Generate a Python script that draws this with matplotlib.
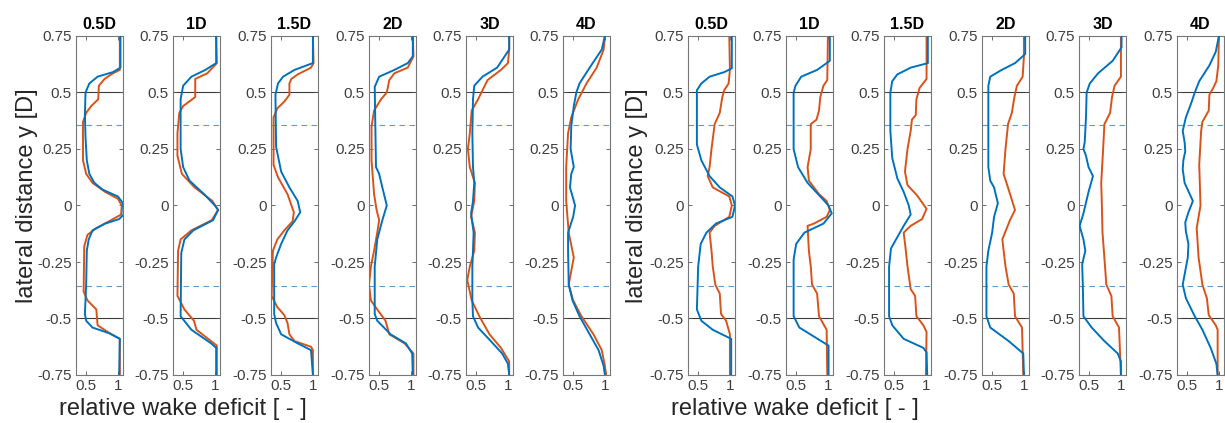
import matplotlib
matplotlib.use("Agg")
import matplotlib.pyplot as plt
import numpy as np

plt.rcParams['font.family'] = ['Liberation Sans', 'DejaVu Sans']

# downstream positions (panel titles)
titles = ['0.5D', '1D', '1.5D', '2D', '3D', '4D']

# wake profiles, (y [D], deficit [-]) pairs
# --- left group ---
left_05_blue = [(0.75, 1.04), (0.61, 1.04), (0.59, 0.92), (0.57, 0.68), (0.54, 0.55), (0.5, 0.49), (0.4, 0.48),
                (0.3, 0.49), (0.2, 0.51), (0.14, 0.55), (0.1, 0.63), (0.07, 0.76), (0.04, 1.0), (0.01, 1.08),
                (-0.04, 1.09), (-0.06, 1.02), (-0.08, 0.8), (-0.11, 0.6), (-0.15, 0.54), (-0.2, 0.51),
                (-0.35, 0.5), (-0.48, 0.48), (-0.51, 0.5), (-0.54, 0.6), (-0.565, 0.86), (-0.59, 1.03),
                (-0.75, 1.02)]
left_05_orange = [(0.75, 1.03), (0.6, 1.03), (0.585, 0.92), (0.56, 0.79), (0.53, 0.7), (0.47, 0.69), (0.44, 0.58),
                  (0.41, 0.5), (0.37, 0.45), (0.2, 0.45), (0.14, 0.5), (0.1, 0.6), (0.06, 0.8), (0.03, 1.0),
                  (0.0, 1.06), (-0.04, 1.05), (-0.07, 0.86), (-0.1, 0.66), (-0.13, 0.52), (-0.18, 0.47),
                  (-0.38, 0.46), (-0.42, 0.52), (-0.46, 0.66), (-0.53, 0.68), (-0.56, 0.84), (-0.59, 1.03),
                  (-0.75, 1.03)]
left_1_blue = [(0.75, 1.02), (0.63, 1.02), (0.6, 0.85), (0.57, 0.63), (0.53, 0.5), (0.47, 0.46), (0.25, 0.46),
               (0.17, 0.5), (0.11, 0.6), (0.05, 0.83), (0.0, 1.0), (-0.02, 1.05), (-0.065, 0.97), (-0.11, 0.66),
               (-0.15, 0.52), (-0.21, 0.47), (-0.49, 0.46), (-0.55, 0.63), (-0.61, 0.94), (-0.63, 1.02),
               (-0.75, 1.02)]
left_1_orange = [(0.75, 1.02), (0.63, 1.03), (0.585, 0.88), (0.56, 0.69), (0.48, 0.69), (0.44, 0.5), (0.41, 0.44),
                 (0.32, 0.41), (0.22, 0.41), (0.14, 0.48), (0.08, 0.68), (0.02, 0.96), (-0.02, 1.05),
                 (-0.065, 0.95), (-0.11, 0.63), (-0.15, 0.46), (-0.2, 0.42), (-0.4, 0.41), (-0.46, 0.52),
                 (-0.51, 0.67), (-0.55, 0.71), (-0.62, 1.03), (-0.75, 1.03)]
left_15_blue = [(0.75, 1.0), (0.63, 1.0), (0.625, 0.95), (0.6, 0.71), (0.57, 0.53), (0.54, 0.45), (0.49, 0.41),
                (0.26, 0.42), (0.15, 0.5), (0.08, 0.63), (0.02, 0.76), (-0.03, 0.8), (-0.07, 0.71), (-0.11, 0.6),
                (-0.17, 0.5), (-0.23, 0.42), (-0.26, 0.39), (-0.48, 0.39), (-0.52, 0.42), (-0.57, 0.5),
                (-0.61, 0.76), (-0.64, 0.97), (-0.75, 1.0)]
left_15_orange = [(0.75, 1.0), (0.63, 1.01), (0.61, 0.97), (0.58, 0.76), (0.56, 0.66), (0.54, 0.63), (0.49, 0.63),
                  (0.46, 0.55), (0.43, 0.44), (0.39, 0.38), (0.18, 0.38), (0.125, 0.45), (0.05, 0.6),
                  (-0.03, 0.7), (-0.07, 0.68), (-0.11, 0.55), (-0.15, 0.44), (-0.2, 0.37), (-0.4, 0.35),
                  (-0.45, 0.44), (-0.485, 0.55), (-0.52, 0.6), (-0.57, 0.63), (-0.6, 0.71), (-0.625, 0.97),
                  (-0.64, 1.0), (-0.75, 1.0)]
left_2_blue = [(0.75, 1.03), (0.66, 1.03), (0.63, 0.95), (0.6, 0.74), (0.57, 0.5), (0.525, 0.43), (0.17, 0.45),
               (0.14, 0.5), (0.08, 0.55), (0.0, 0.62), (-0.065, 0.55), (-0.15, 0.47), (-0.27, 0.43),
               (-0.48, 0.43), (-0.51, 0.47), (-0.57, 0.68), (-0.61, 0.92), (-0.655, 1.02), (-0.75, 1.03)]
left_2_orange = [(0.75, 1.03), (0.66, 1.04), (0.61, 0.95), (0.585, 0.74), (0.555, 0.66), (0.5, 0.62), (0.47, 0.53),
                 (0.42, 0.42), (0.35, 0.38), (0.2, 0.38), (0.05, 0.42), (-0.02, 0.46), (-0.065, 0.5),
                 (-0.12, 0.47), (-0.2, 0.42), (-0.27, 0.37), (-0.35, 0.34), (-0.42, 0.37), (-0.46, 0.47),
                 (-0.51, 0.6), (-0.57, 0.66), (-0.61, 0.9), (-0.655, 1.04), (-0.75, 1.04)]
left_3_blue = [(0.75, 1.02), (0.69, 1.02), (0.61, 0.83), (0.57, 0.6), (0.53, 0.47), (0.47, 0.45), (0.32, 0.44),
               (0.17, 0.45), (0.1, 0.47), (0.02, 0.45), (-0.035, 0.42), (-0.12, 0.46), (-0.2, 0.45),
               (-0.27, 0.44), (-0.42, 0.44), (-0.49, 0.45), (-0.54, 0.53), (-0.6, 0.73), (-0.655, 0.91),
               (-0.7, 1.0), (-0.75, 1.02)]
left_3_orange = [(0.75, 1.02), (0.69, 1.02), (0.63, 1.0), (0.6, 0.89), (0.555, 0.68), (0.51, 0.6), (0.47, 0.53),
                 (0.42, 0.43), (0.32, 0.4), (0.25, 0.37), (0.17, 0.4), (0.1, 0.48), (0.02, 0.47), (-0.05, 0.42),
                 (-0.12, 0.48), (-0.2, 0.47), (-0.27, 0.4), (-0.33, 0.36), (-0.42, 0.43), (-0.49, 0.55),
                 (-0.57, 0.71), (-0.63, 0.89), (-0.69, 1.02), (-0.75, 1.02)]
left_4_blue = [(0.75, 1.0), (0.69, 0.95), (0.61, 0.76), (0.54, 0.6), (0.5, 0.55), (0.44, 0.51), (0.35, 0.47),
               (0.25, 0.46), (0.17, 0.51), (0.14, 0.47), (0.08, 0.45), (0.0, 0.53), (-0.05, 0.5), (-0.12, 0.42),
               (-0.2, 0.42), (-0.35, 0.43), (-0.42, 0.49), (-0.49, 0.6), (-0.57, 0.76), (-0.64, 0.9),
               (-0.71, 0.98), (-0.75, 1.0)]
left_4_orange = [(0.75, 1.0), (0.69, 0.98), (0.61, 0.87), (0.54, 0.71), (0.47, 0.58), (0.39, 0.47), (0.32, 0.42),
                 (0.17, 0.39), (0.02, 0.39), (-0.12, 0.43), (-0.23, 0.51), (-0.29, 0.47), (-0.35, 0.43),
                 (-0.42, 0.5), (-0.49, 0.63), (-0.57, 0.82), (-0.64, 0.95), (-0.71, 1.0), (-0.75, 1.02)]

# --- right group ---
right_05_blue = [(0.75, 1.03), (0.607, 1.03), (0.59, 0.91), (0.57, 0.68), (0.54, 0.55), (0.51, 0.48), (0.27, 0.48),
                 (0.2, 0.55), (0.13, 0.68), (0.08, 0.84), (0.04, 1.04), (0.0, 1.08), (-0.05, 1.04), (-0.08, 0.78),
                 (-0.12, 0.63), (-0.17, 0.54), (-0.27, 0.5), (-0.46, 0.48), (-0.51, 0.55), (-0.55, 0.73),
                 (-0.59, 1.02), (-0.75, 1.02)]
right_05_orange = [(0.75, 0.99), (0.6, 1.0), (0.54, 0.98), (0.51, 0.91), (0.48, 0.88), (0.41, 0.84), (0.36, 0.76),
                   (0.25, 0.71), (0.17, 0.68), (0.13, 0.65), (0.08, 0.73), (0.04, 0.99), (0.0, 1.03),
                   (-0.05, 0.99), (-0.09, 0.76), (-0.12, 0.68), (-0.2, 0.71), (-0.27, 0.73), (-0.35, 0.77),
                   (-0.39, 0.84), (-0.48, 0.86), (-0.51, 0.94), (-0.57, 1.0), (-0.75, 1.0)]
right_1_blue = [(0.75, 1.03), (0.64, 1.03), (0.6, 0.83), (0.57, 0.58), (0.53, 0.49), (0.5, 0.46), (0.25, 0.46),
                (0.17, 0.53), (0.1, 0.68), (0.04, 0.88), (0.0, 1.01), (-0.035, 1.06), (-0.08, 0.93),
                (-0.12, 0.63), (-0.17, 0.5), (-0.24, 0.46), (-0.49, 0.46), (-0.54, 0.55), (-0.58, 0.78),
                (-0.62, 1.01), (-0.75, 1.01)]
right_1_orange = [(0.75, 1.0), (0.555, 0.99), (0.53, 0.93), (0.48, 0.88), (0.42, 0.86), (0.38, 0.82), (0.36, 0.73),
                  (0.25, 0.73), (0.17, 0.68), (0.11, 0.7), (0.05, 0.86), (0.02, 0.98), (-0.02, 1.03),
                  (-0.05, 0.98), (-0.08, 0.78), (-0.09, 0.68), (-0.2, 0.7), (-0.27, 0.73), (-0.35, 0.75),
                  (-0.39, 0.83), (-0.49, 0.86), (-0.55, 0.98), (-0.75, 0.99)]
right_15_blue = [(0.75, 1.03), (0.63, 1.03), (0.61, 0.76), (0.58, 0.55), (0.55, 0.47), (0.5, 0.44), (0.33, 0.44),
                 (0.21, 0.47), (0.12, 0.55), (0.06, 0.65), (0.0, 0.73), (-0.04, 0.76), (-0.09, 0.65),
                 (-0.15, 0.53), (-0.19, 0.45), (-0.27, 0.42), (-0.49, 0.42), (-0.53, 0.47), (-0.59, 0.65),
                 (-0.63, 0.96), (-0.65, 1.01), (-0.75, 1.02)]
right_15_orange = [(0.75, 1.01), (0.56, 1.01), (0.52, 0.9), (0.47, 0.85), (0.4, 0.84), (0.38, 0.78), (0.33, 0.76),
                   (0.25, 0.71), (0.15, 0.67), (0.09, 0.71), (0.045, 0.86), (-0.015, 1.01), (-0.06, 0.94),
                   (-0.09, 0.76), (-0.12, 0.65), (-0.19, 0.68), (-0.27, 0.71), (-0.37, 0.76), (-0.4, 0.83),
                   (-0.49, 0.85), (-0.53, 0.96), (-0.56, 1.01), (-0.75, 1.0)]
right_2_blue = [(0.75, 1.02), (0.67, 1.02), (0.63, 0.86), (0.6, 0.65), (0.57, 0.47), (0.53, 0.44), (0.17, 0.44),
                (0.11, 0.47), (0.08, 0.53), (0.01, 0.59), (-0.05, 0.53), (-0.12, 0.5), (-0.2, 0.44),
                (-0.27, 0.41), (-0.49, 0.41), (-0.54, 0.47), (-0.6, 0.76), (-0.655, 0.99), (-0.75, 1.0)]
right_2_orange = [(0.75, 1.0), (0.66, 1.0), (0.57, 0.98), (0.53, 0.89), (0.48, 0.85), (0.41, 0.81), (0.36, 0.75),
                  (0.25, 0.71), (0.14, 0.68), (0.07, 0.76), (-0.02, 0.86), (-0.065, 0.78), (-0.15, 0.66),
                  (-0.27, 0.71), (-0.35, 0.76), (-0.39, 0.84), (-0.49, 0.86), (-0.54, 0.97), (-0.75, 0.99)]
right_3_blue = [(0.75, 1.01), (0.7, 1.01), (0.64, 0.87), (0.585, 0.64), (0.54, 0.51), (0.5, 0.46), (0.39, 0.45),
                (0.28, 0.43), (0.25, 0.41), (0.22, 0.45), (0.17, 0.49), (0.13, 0.56), (0.06, 0.49),
                (-0.035, 0.41), (-0.09, 0.35), (-0.15, 0.41), (-0.2, 0.44), (-0.26, 0.39), (-0.35, 0.4),
                (-0.49, 0.41), (-0.54, 0.54), (-0.6, 0.74), (-0.655, 0.95), (-0.69, 1.0), (-0.75, 1.0)]
right_3_orange = [(0.75, 1.0), (0.57, 1.0), (0.53, 0.9), (0.48, 0.86), (0.41, 0.83), (0.36, 0.74), (0.25, 0.72),
                  (0.1, 0.69), (0.0, 0.7), (-0.12, 0.71), (-0.27, 0.75), (-0.35, 0.77), (-0.4, 0.85),
                  (-0.49, 0.87), (-0.54, 0.97), (-0.75, 1.0)]
right_4_blue = [(0.75, 1.0), (0.68, 0.95), (0.62, 0.85), (0.55, 0.69), (0.5, 0.62), (0.45, 0.56), (0.39, 0.48),
                (0.33, 0.43), (0.28, 0.46), (0.24, 0.47), (0.2, 0.44), (0.16, 0.43), (0.1, 0.46), (0.02, 0.59),
                (-0.03, 0.52), (-0.075, 0.47), (-0.115, 0.48), (-0.17, 0.52), (-0.23, 0.51), (-0.29, 0.47),
                (-0.35, 0.43), (-0.41, 0.48), (-0.485, 0.61), (-0.55, 0.74), (-0.63, 0.87), (-0.7, 0.96),
                (-0.75, 0.98)]
right_4_orange = [(0.75, 1.0), (0.62, 0.99), (0.55, 0.96), (0.52, 0.91), (0.49, 0.85), (0.42, 0.84), (0.37, 0.74),
                  (0.33, 0.72), (0.18, 0.69), (0.0, 0.71), (-0.1, 0.65), (-0.23, 0.68), (-0.35, 0.74),
                  (-0.41, 0.81), (-0.485, 0.84), (-0.53, 0.95), (-0.55, 0.98), (-0.75, 0.98)]

left_blue = [left_05_blue, left_1_blue, left_15_blue, left_2_blue, left_3_blue, left_4_blue]
left_orange = [left_05_orange, left_1_orange, left_15_orange, left_2_orange, left_3_orange, left_4_orange]
right_blue = [right_05_blue, right_1_blue, right_15_blue, right_2_blue, right_3_blue, right_4_blue]
right_orange = [right_05_orange, right_1_orange, right_15_orange, right_2_orange, right_3_orange, right_4_orange]

rotor_edge = 0.5
dashed_y = 0.355
yticks = [-0.75, -0.5, -0.25, 0, 0.25, 0.5, 0.75]
ytick_labels = ['-0.75', '-0.5', '-0.25', '0', '0.25', '0.5', '0.75']

BLUE = '#0072BD'
ORANGE = '#D95319'

W, H = 1225, 423
fig = plt.figure(figsize=(W / 100, H / 100), dpi=100)

left_px = [76, 173, 271, 369, 466, 563, 688, 786, 884, 982, 1079, 1177]
ax_w = 47 / W
ax_b = 1 - 375 / H
ax_h = (375 - 36) / H

groups = [(left_blue, left_orange), (right_blue, right_orange)]
for g, (blues, oranges) in enumerate(groups):
    for k in range(6):
        ax = fig.add_axes([left_px[g * 6 + k] / W, ax_b, ax_w, ax_h])
        ax.axhline(rotor_edge, color='#3a3a3a', lw=0.8, zorder=1)
        ax.axhline(-rotor_edge, color='#3a3a3a', lw=0.8, zorder=1)
        ax.axhline(dashed_y, color='#5b9bd0', lw=0.8, ls=(0, (5, 4)), zorder=1)
        ax.axhline(-dashed_y, color='#5b9bd0', lw=0.8, ls=(0, (5, 4)), zorder=1)
        o = np.array(oranges[k])
        b = np.array(blues[k])
        ax.plot(o[:, 1], o[:, 0], color=ORANGE, lw=1.4, zorder=2)
        ax.plot(b[:, 1], b[:, 0], color=BLUE, lw=1.4, zorder=3)
        ax.set_xlim(0.34, 1.08)
        ax.set_ylim(-0.75, 0.75)
        ax.set_yticks(yticks)
        ax.set_yticklabels(ytick_labels)
        ax.set_xticks([0.5, 1])
        ax.set_xticklabels(['0.5', '1'])
        ax.tick_params(direction='in', length=3, width=0.6, top=True, right=True,
                       labelsize=11, labelcolor='#404040', color='#555555', pad=3)
        for s in ax.spines.values():
            s.set_color('#777777')
            s.set_linewidth(0.8)
        ax.set_title(titles[k], fontsize=11.5, fontweight='bold', pad=5)

fig.text(27 / W, 1 - 196 / H, 'lateral distance y [D]', rotation=90, fontsize=17,
         ha='center', va='center', color='#262626')
fig.text(637 / W, 1 - 196 / H, 'lateral distance y [D]', rotation=90, fontsize=17,
         ha='center', va='center', color='#262626')
fig.text(183 / W, 1 - 409 / H, 'relative wake deficit [ - ]', fontsize=17,
         ha='center', va='center', color='#262626')
fig.text(795 / W, 1 - 409 / H, 'relative wake deficit [ - ]', fontsize=17,
         ha='center', va='center', color='#262626')

fig.savefig('out.png', dpi=100)
